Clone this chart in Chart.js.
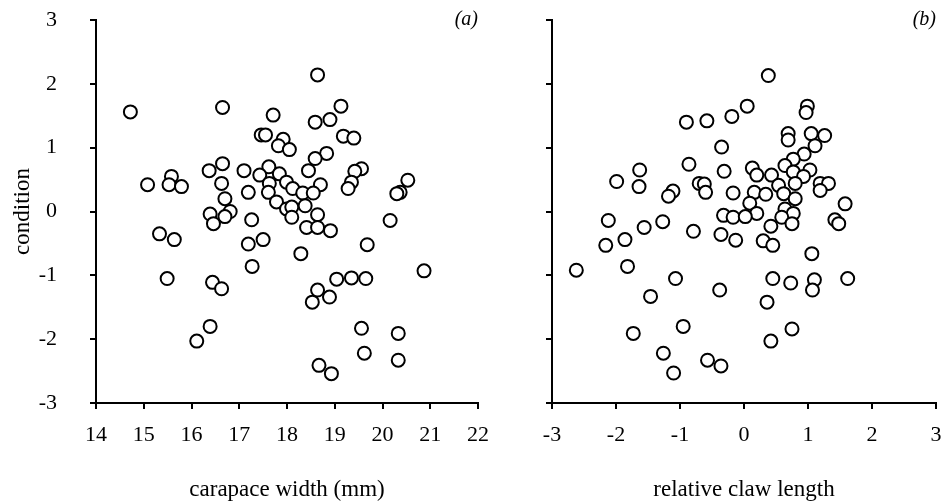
<!DOCTYPE html>
<html>
<head>
<meta charset="utf-8">
<script src="https://cdn.jsdelivr.net/npm/chart.js@4.4.0/dist/chart.umd.min.js"></script>
<style>
  html, body { margin: 0; padding: 0; background: #fff; }
  #wrap { position: relative; width: 946px; height: 504px; }
  #graficoA { position: absolute; left: 0; top: 0; width: 500px; height: 504px; }
  #graficoB { position: absolute; left: 500px; top: 0; width: 446px; height: 504px; }
</style>
</head>
<body>
<div id="wrap">
  <canvas id="graficoA" width="500" height="504"></canvas>
  <canvas id="graficoB" width="446" height="504"></canvas>
</div>
<script>
// ==========================
// DATA
// ==========================
const carapaceWidth = [
  14.72, 16.65, 17.71, 17.46, 17.55, 17.92, 17.82, 18.05, 16.65, 16.37,
  17.10, 17.62, 17.43, 17.84, 17.99, 15.58, 15.53, 15.79, 15.08, 16.63,
  17.63, 17.19, 17.61, 17.78, 17.99, 16.70, 16.81, 16.70, 16.39, 16.46,
  17.26, 15.33, 15.64, 17.19, 17.50, 17.27, 15.49, 16.44, 16.63, 16.39,
  16.11, 18.64, 19.13, 18.59, 18.90, 19.18, 19.40, 18.83, 18.59, 18.45,
  19.56, 19.42, 19.35, 19.28, 20.53, 20.37, 20.30, 18.12, 18.70, 18.33,
  18.55, 18.10, 18.10, 18.64, 18.38, 18.41, 18.64, 18.91, 20.16, 19.68,
  18.29, 20.87, 19.04, 19.35, 19.65, 18.64, 18.89, 18.53, 19.56, 20.33,
  19.62, 20.33, 18.67, 18.93
];
const conditionA = [
  1.56, 1.63, 1.51, 1.20, 1.20, 1.13, 1.03, 0.97, 0.75, 0.64,
  0.64, 0.70, 0.57, 0.59, 0.46, 0.55, 0.42, 0.39, 0.42, 0.44,
  0.44, 0.30, 0.30, 0.15, 0.04, 0.20, 0.00, -0.08, -0.04, -0.19,
  -0.13, -0.35, -0.44, -0.51, -0.44, -0.86, -1.05, -1.11, -1.21, -1.80,
  -2.03, 2.14, 1.65, 1.40, 1.44, 1.18, 1.15, 0.91, 0.83, 0.64,
  0.67, 0.63, 0.46, 0.36, 0.49, 0.30, 0.28, 0.36, 0.42, 0.29,
  0.29, 0.07, -0.09, -0.05, 0.09, -0.25, -0.25, -0.30, -0.14, -0.52,
  -0.66, -0.93, -1.06, -1.04, -1.05, -1.23, -1.34, -1.42, -1.83, -1.91,
  -2.22, -2.33, -2.41, -2.54
];
const clawLength = [
  -0.90, -0.58, -0.19, 0.05, -0.35, -0.86, -0.31, -1.63, -1.64, -1.99,
  -0.70, -0.62, -0.60, -1.11, -1.18, -0.17, -2.12, -1.56, -1.27, -0.79,
  -0.32, -0.17, -0.36, -0.13, -1.86, -2.16, -2.62, -1.82, -1.07, -1.46,
  -0.38, -0.95, -1.73, -1.26, -0.57, -0.36, -1.10, 0.38, 0.99, 0.97,
  0.69, 0.69, 1.05, 1.26, 1.11, 0.94, 0.77, 1.03, 0.64, 0.13,
  0.20, 0.43, 0.77, 0.93, 0.80, 0.54, 1.19, 1.32, 1.19, 0.16,
  0.34, 0.62, 0.80, 0.09, 1.58, 0.64, 0.77, 0.20, 0.02, 0.59,
  0.75, 1.42, 1.48, 0.42, 0.30, 0.45, 1.06, 0.45, 0.73, 1.10,
  1.07, 1.62, 0.36, 0.75, 0.42
];
const conditionB = [
  1.40, 1.42, 1.49, 1.65, 1.01, 0.74, 0.63, 0.65, 0.39, 0.47,
  0.44, 0.43, 0.30, 0.32, 0.24, 0.29, -0.14, -0.25, -0.16, -0.31,
  -0.06, -0.09, -0.36, -0.45, -0.44, -0.53, -0.92, -0.86, -1.05, -1.33,
  -1.23, -1.80, -1.91, -2.22, -2.33, -2.42, -2.53, 2.13, 1.65, 1.55,
  1.22, 1.12, 1.22, 1.19, 1.03, 0.90, 0.82, 0.65, 0.72, 0.68,
  0.57, 0.57, 0.62, 0.55, 0.44, 0.41, 0.44, 0.44, 0.33, 0.30,
  0.27, 0.28, 0.20, 0.13, 0.12, 0.04, -0.03, -0.03, -0.08, -0.09,
  -0.19, -0.13, -0.19, -0.23, -0.46, -0.53, -0.66, -1.05, -1.12, -1.07,
  -1.23, -1.05, -1.42, -1.84, -2.03
];

const yTitle = "condition";
const xTitleA = "carapace width (mm)";
const xTitleB = "relative claw length";

const SERIF = "'Liberation Serif', 'Times New Roman', serif";

// panel letter (a) / (b) in the top right corner
const panelLabel = {
  id: "panelLabel",
  afterDraw(chart, args, opts) {
    const { ctx, chartArea } = chart;
    ctx.save();
    ctx.font = "italic 20px " + SERIF;
    ctx.fillStyle = "#000";
    ctx.textAlign = "right";
    ctx.textBaseline = "middle";
    ctx.fillText(opts.text, chartArea.right, chartArea.top);
    ctx.restore();
  }
};

function criarGrafico(id, xs, ys, xMin, xMax, xTitle, letter, leftWidth, padRight) {
  const pontos = xs.map((x, i) => ({ x: x, y: ys[i] }));
  const axisLines = {
    grid: { drawOnChartArea: false, drawTicks: true, tickLength: 6, lineWidth: 2, color: "#000" },
    border: { display: true, color: "#000", width: 2 }
  };
  const showY = leftWidth > 60;

  return new Chart(document.getElementById(id), {
    type: "scatter",
    data: {
      datasets: [{
        data: pontos,
        pointRadius: 6.5,
        pointHoverRadius: 6.5,
        pointBorderWidth: 2,
        pointBorderColor: "#000",
        pointBackgroundColor: "#fff"
      }]
    },
    options: {
      responsive: false,
      animation: false,
      layout: { padding: { left: 0, right: padRight, top: 20, bottom: 0 } },
      plugins: {
        legend: { display: false },
        tooltip: { enabled: false },
        panelLabel: { text: letter }
      },
      scales: {
        x: {
          type: "linear",
          min: xMin,
          max: xMax,
          ...axisLines,
          ticks: { stepSize: 1, padding: 13, color: "#000", font: { family: SERIF, size: 22 } },
          title: {
            display: true, text: xTitle, color: "#000",
            font: { family: SERIF, size: 23, lineHeight: 1.2 },
            padding: { top: 0, bottom: 0 }
          },
          afterFit: s => {
            s.height = 101;
            s.paddingLeft = 0;
            s.paddingRight = 0;
          }
        },
        y: {
          type: "linear",
          min: -3,
          max: 3,
          ...axisLines,
          ticks: { stepSize: 1, padding: 33, display: showY, color: "#000", font: { family: SERIF, size: 22 } },
          title: {
            display: showY, text: yTitle, color: "#000",
            font: { family: SERIF, size: 23, lineHeight: 1.2 },
            padding: { top: 9, bottom: 0 }
          },
          afterFit: s => {
            s.width = leftWidth;
            // keep the label padding from pushing the plot down
            s.paddingTop = 0;
            s.paddingBottom = 0;
          }
        }
      }
    },
    plugins: [panelLabel]
  });
}

document.addEventListener("DOMContentLoaded", () => {
  criarGrafico("graficoA", carapaceWidth, conditionA, 14, 22, xTitleA, "(a)", 96, 22);
  criarGrafico("graficoB", clawLength, conditionB, -3, 3, xTitleB, "(b)", 52, 10);
});
</script>
</body>
</html>
